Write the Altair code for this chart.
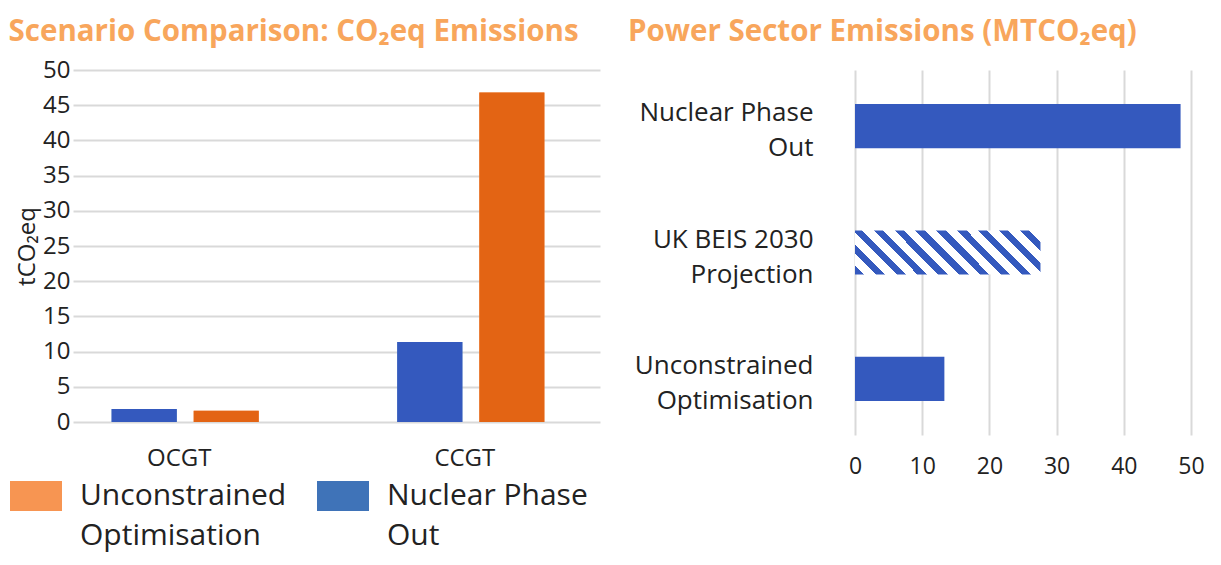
import altair as alt
import pandas as pd

# ---------------- data ----------------
techs = ["OCGT", "CCGT"]
nuclear_phase_out = [1.85, 11.35]
unconstrained_opt = [1.6, 46.8]
scen_nuclear = "Nuclear Phase\nOut"
scen_unconstrained = "Unconstrained\nOptimisation"

sectors = ["Nuclear Phase\nOut", "UK BEIS 2030\nProjection", "Unconstrained\nOptimisation"]
sector_values = [48.45, 27.6, 13.3]
sector_hatched = [False, True, False]

y_ticks_left = [0, 5, 10, 15, 20, 25, 30, 35, 40, 45, 50]
x_ticks_right = [0, 10, 20, 30, 40, 50]

# ---------------- styles ----------------
FONT = "Open Sans, Roboto, Noto Sans, DejaVu Sans, sans-serif"
TEXT = "#222222"
GRID = "#D9D9D9"
TITLE_COLOR = "#F8A65C"
BLUE = "#3459BE"
ORANGE = "#E36414"
LEG_ORANGE = "#F79552"
LEG_BLUE = "#3F73B8"

rows = []
for t, a, b in zip(techs, nuclear_phase_out, unconstrained_opt):
    rows.append({"tech": t, "scenario": scen_nuclear, "value": a})
    rows.append({"tech": t, "scenario": scen_unconstrained, "value": b})
left_df = pd.DataFrame(rows)

right_df = pd.DataFrame({"sector": sectors, "value": sector_values, "hatched": sector_hatched})

# ---------------- left chart ----------------
x_left = alt.X(
    "tech:N",
    scale=alt.Scale(domain=techs, paddingInner=0.485, paddingOuter=0.165, align=0.41),
    axis=alt.Axis(title=None, labelAngle=0, labelFontSize=24, labelFont=FONT, labelColor=TEXT,
                  labelPadding=24, labelOffset=-6, domain=False, ticks=False, grid=False),
)
xoff_left = alt.XOffset(
    "scenario:N",
    scale=alt.Scale(domain=[scen_nuclear, scen_unconstrained], paddingInner=0.207, paddingOuter=0),
)
y_left = alt.Y(
    "value:Q",
    scale=alt.Scale(domain=[0, 50], nice=False),
    axis=alt.Axis(values=y_ticks_left, title="tCO₂eq", titleFontSize=24, titleFont=FONT,
                  titleFontWeight="normal", titleColor=TEXT, titlePadding=3,
                  labelFontSize=24, labelFont=FONT, labelColor=TEXT, labelPadding=3, labelFlush=False,
                  domain=False, ticks=False, grid=True, gridColor=GRID, gridWidth=2),
)

legend_under = alt.Chart(left_df).mark_bar().encode(
    x=x_left, xOffset=xoff_left, y=y_left,
    fill=alt.Fill(
        "scenario:N",
        scale=alt.Scale(domain=[scen_unconstrained, scen_nuclear], range=[LEG_ORANGE, LEG_BLUE]),
        legend=alt.Legend(
            title=None, orient="none", legendX=-63, legendY=400, direction="horizontal",
            columns=2, columnPadding=30,
            symbolType="M-1,-0.577H1V0.577H-1Z", symbolSize=2704, symbolStrokeWidth=0,
            symbolOpacity=1,
            labelFontSize=30, labelFont=FONT, labelColor=TEXT, labelOffset=18, labelLimit=400,
            labelExpr="split(datum.label, '\\n')",
        ),
    ),
)
left_bars = alt.Chart(left_df).mark_bar().encode(
    x=x_left, xOffset=xoff_left, y=y_left,
    color=alt.Color("scenario:N",
                    scale=alt.Scale(domain=[scen_nuclear, scen_unconstrained], range=[BLUE, ORANGE]),
                    legend=None),
)

left = alt.layer(legend_under, left_bars).properties(
    width=527, height=352,
    title=alt.Title("Scenario Comparison: CO₂eq Emissions", anchor="start", frame="bounds",
                    fontSize=29.5, font=FONT, fontWeight="bold", color=TITLE_COLOR, offset=11,
                    dx=-7),
)

# ---------------- right chart ----------------
n_stripes = 11
blue_frac = 0.45
stops = []
for i in range(n_stripes):
    a = i / n_stripes
    b = (i + blue_frac) / n_stripes
    c = (i + 1) / n_stripes
    stops += [alt.GradientStop(offset=a, color=BLUE), alt.GradientStop(offset=b, color=BLUE),
              alt.GradientStop(offset=b, color="#FFFFFF"), alt.GradientStop(offset=c, color="#FFFFFF")]
hatch_fill = alt.Gradient(gradient="linear", stops=stops, x1=0, y1=1, x2=1.1713, y2=0.7222)

x_right = alt.X(
    "value:Q",
    scale=alt.Scale(domain=[0, 50], nice=False),
    axis=alt.Axis(values=x_ticks_right, title=None, labelFontSize=23, labelFont=FONT, labelColor=TEXT,
                  labelPadding=20, labelFlush=False, domain=False, ticks=False, grid=True,
                  gridColor=GRID, gridWidth=2),
)
y_right = alt.Y(
    "sector:N",
    scale=alt.Scale(domain=sectors, paddingInner=0.65, paddingOuter=0.27),
    axis=alt.Axis(title=None, labelFontSize=26, labelFont=FONT, labelColor=TEXT, labelPadding=42,
                  labelExpr="split(datum.label, '\\n')", labelLineHeight=35, labelLimit=400,
                  labelOffset=-13, minExtent=222, maxExtent=222,
                  domain=False, ticks=False, grid=False),
)

solid = alt.Chart(right_df).transform_filter("!datum.hatched").mark_bar(color=BLUE).encode(x=x_right, y=y_right)
hatch = alt.Chart(right_df).transform_filter("datum.hatched").mark_bar(color=hatch_fill).encode(x=x_right, y=y_right)

right = alt.layer(solid, hatch).properties(
    width=336, height=365,
    title=alt.Title("Power Sector Emissions (MTCO₂eq)", anchor="start", frame="bounds",
                    fontSize=29.5, font=FONT, fontWeight="bold", color=TITLE_COLOR, offset=23,
                    dx=-5),
)

chart = alt.hconcat(left, right, spacing=28).configure(
    font=FONT,
    padding={"left": 0, "top": 8, "right": 2, "bottom": 4},
    style={"guide-label": alt.MarkConfig(lineHeight=40)},
    view=alt.ViewConfig(stroke=None),
)

chart.save("out.html", embed_options={"renderer": "svg", "actions": False})
